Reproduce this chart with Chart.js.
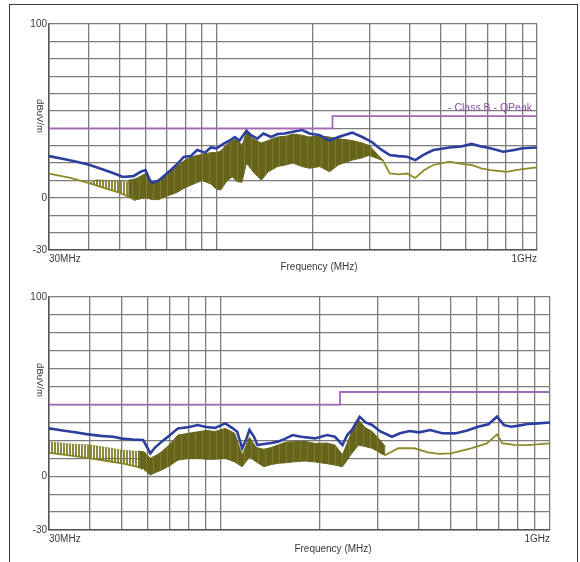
<!DOCTYPE html>
<html>
<head>
<meta charset="utf-8">
<script src="https://cdn.jsdelivr.net/npm/chart.js@4.4.1/dist/chart.umd.min.js"></script>
<style>
  body { margin: 0; background: #fff; width: 580px; height: 562px; overflow: hidden; position: relative; font-family: "Liberation Sans", Arial, sans-serif; }
  .frame { position: absolute; left: 9px; top: 4px; width: 567px; height: 620px; border: 1.5px solid #3a3a3a; }
  canvas { position: absolute; left: 0; }
  .lbl { position: absolute; transform: translate(-50%, -50%); font-size: 10px; color: #3a3a3a; white-space: nowrap; }
  .ylbl { transform: translate(-50%, -50%) rotate(90deg); font-size: 9.5px; }
</style>
</head>
<body>
<div class="frame"></div>
<canvas id="top" width="580" height="280" style="top:0;width:580px;height:280px"></canvas>
<canvas id="bottom" width="580" height="282" style="top:280px;width:580px;height:282px"></canvas>

<div class="lbl" style="left:319px;top:266px">Frequency (MHz)</div>
<div class="lbl ylbl" style="left:40px;top:116px">dBuV/m</div>
<div class="lbl" style="left:333px;top:548px">Frequency (MHz)</div>
<div class="lbl ylbl" style="left:40px;top:380px">dBuV/m</div>

<script>
// axes
const gridFreqs = [30, 40, 50, 60, 70, 80, 90, 100, 200, 300, 400, 500, 600, 700, 800, 900, 1000];
const yLabels = [100, 0, -30];

// limite classe B (QPeak)
const limitLabel = "- Class B - QPeak";
const limitFreq = [30, 230, 230, 1000];
const limitDb   = [40, 40, 47, 47];

// ---- graphe du haut ----
const topBlueFreq = [30, 33, 36, 40, 44, 48, 51, 55, 58, 60, 62, 63, 66, 70, 75, 79, 83, 87, 92, 96, 100, 105, 110, 114, 118, 124, 128, 134, 140, 148, 155, 163, 173, 185, 195, 210, 225, 240, 265, 285, 306, 325, 347, 370, 393, 417, 445, 475, 533, 580, 625, 670, 715, 785, 850, 900, 1000];
const topBlueDb   = [24, 22.5, 21, 19, 16.5, 14, 12, 12.5, 15, 16, 10, 8.5, 10, 14, 19, 23.5, 24, 27.5, 26, 29, 28.5, 31, 33, 35, 33, 38.6, 36, 34, 37, 35, 36.7, 37, 38, 39, 37, 36, 33, 35, 37.5, 35, 32, 28, 24.6, 24, 23.6, 21.7, 25, 27.5, 29, 29.5, 31, 29.5, 28.5, 26.5, 27.5, 28.5, 29];

// trait simple (null = coupure sous la bande dense)
const topOliveFreq = [30, 35, 40, 45, 50, 56, 100, 300, 330, 347, 370, 393, 417, 445, 475, 533, 580, 625, 670, 715, 800, 900, 1000];
const topOliveDb   = [14, 11.5, 8.5, 5.5, 2.8, -1.5, null, 24.6, 21.7, 14, 13.5, 14, 11.4, 16, 18.9, 20.8, 19.5, 18.9, 17, 16, 15, 16.5, 17.5];

const topSparseFreq = [40, 42, 46, 50, 54, 58];
const topSparseHigh = [8.5, 10.5, 10, 9.5, 9, 11];
const topSparseLow  = [8.5, 7.3, 5, 2.8, 0, -1.2];

const topBandFreq = [53, 56, 60, 63, 66, 70, 75, 80, 85, 90, 96, 100, 103, 108, 112, 116, 120, 124, 130, 138, 145, 155, 165, 173, 185, 195, 210, 225, 240, 265, 285, 300, 330];
const topBandHigh = [10, 11, 14, 8, 10, 14, 18, 22, 24, 25, 26, 26, 27, 31, 33, 34, 30, 38, 34, 31.5, 33, 35, 35.5, 36.7, 36, 35, 35.5, 35, 34, 33, 31.5, 30, 21.7];
const topBandLow  = [1, -1, 0, -1, -1, 1, 3, 6, 8, 10, 8, 5, 4.5, 10, 12, 9.3, 9, 20, 15, 10.2, 15, 18, 19, 20, 18, 17, 18, 15, 19, 21.7, 23, 24.6, 21.7];

// ---- graphe du bas ----
const botBlueFreq = [30, 33, 36, 39, 43, 47, 50, 54, 58, 61, 63, 66, 70, 74, 80, 85, 90, 96, 103, 108, 112, 116, 119, 122, 126, 129, 135, 142, 149, 157, 165, 175, 193, 210, 222, 234, 242, 250, 264, 275, 288, 305, 331, 350, 374, 400, 432, 470, 515, 560, 604, 650, 690, 725, 763, 820, 855, 920, 1000];
const botBlueDb   = [26.7, 25.5, 24.5, 23.5, 22.5, 22, 21, 20.5, 20.2, 12.8, 16, 19.3, 23, 26.7, 27.5, 28.6, 27.5, 27, 29.5, 27, 24.8, 15.6, 20, 25.8, 22, 17.4, 18, 18.5, 19.3, 21, 23, 22, 21.1, 23, 22, 17.4, 23, 25.8, 33.2, 30, 28.6, 25, 22, 24, 25.2, 24.5, 25.8, 24, 23.9, 25.5, 27.6, 29, 33.2, 28.5, 27.6, 28.5, 29.1, 29.5, 30];

const botOliveFreq = [30, 35, 40, 45, 50, 55, 58, 100, 305, 316, 346, 387, 425, 460, 500, 575, 643, 690, 717, 780, 855, 1000];
const botOliveDb   = [13, 11.5, 10, 8.5, 7.2, 5.5, 4.4, null, 13, 11.8, 15.6, 15.6, 13.3, 12.5, 12.8, 15.6, 18.3, 23.4, 18.3, 17.5, 17.4, 18.3];

const botSparseFreq = [30, 35, 40, 45, 50, 55, 60];
const botSparseHigh = [19.3, 18, 17.5, 16, 14.6, 14, 13];
const botSparseLow  = [13, 11.5, 10, 8.5, 7.2, 5.5, 2];

const botBandFreq = [56, 58, 61, 64, 66, 70, 74, 80, 85, 90, 96, 103, 110, 116, 122, 128, 135, 142, 149, 157, 165, 180, 193, 210, 222, 234, 250, 262, 275, 288, 305, 316];
const botBandHigh = [14, 13.7, 10, 12, 13.7, 18, 23, 24, 24.8, 25.5, 25, 26.7, 24, 11.8, 21.7, 16, 15, 16, 17.4, 19, 19.3, 19.5, 18.3, 18.5, 17.4, 12, 25, 31.4, 27, 25, 20, 16.5];
const botBandLow  = [5, 4.4, 0.7, 2.5, 3.5, 6, 9, 10, 10, 9.5, 9.5, 10, 8, 5.3, 10.7, 8, 5.3, 6.5, 7.2, 7.5, 8, 8.5, 8, 7, 6.2, 5.3, 12.8, 17.4, 16.5, 15.6, 13, 11.8];

const BLUE = "#2c3f9e";
const OLIVE = "#66641a";
const OLIVE_LINE = "#8d8b28";
const LIMIT = "#a468b8";

// hachures verticales (trace très dense du détecteur)
function stripes(color, gap, w) {
  const c = document.createElement("canvas");
  c.width = w; c.height = 4;
  const g = c.getContext("2d");
  g.fillStyle = gap;
  g.fillRect(0, 0, w, 4);
  g.fillStyle = color;
  g.fillRect(0, 0, w - 1, 4);
  return g.createPattern(c, "repeat");
}
const SPARSE = stripes("rgba(120,118,30,0.85)", "rgba(255,255,255,0)", 3);
const DENSE  = stripes(OLIVE, "#7e7c30", 7);

const pts = (xs, ys) => xs.map((x, i) => ({ x, y: ys[i] }));

// légende de la limite, écrite juste au-dessus du trait à droite
const limitLegend = {
  id: "limitLegend",
  afterDraw(chart, args, opts) {
    if (!opts.text) return;
    const { ctx, chartArea } = chart;
    ctx.save();
    ctx.font = "10.5px 'Liberation Sans', Arial, sans-serif";
    ctx.fillStyle = "#8c4aa2";
    ctx.textAlign = "right";
    ctx.textBaseline = "alphabetic";
    ctx.fillText(opts.text, chartArea.right - 5, chart.scales.y.getPixelForValue(47) - 5);
    ctx.restore();
  },
};

function buildChart(id, pad, s, legendText) {
  const line = (data, color, width, order, extra) => Object.assign({
    data, borderColor: color, borderWidth: width, pointRadius: 0, tension: 0, fill: false, order,
  }, extra || {});

  new Chart(document.getElementById(id), {
    type: "line",
    data: {
      datasets: [
        line(pts(limitFreq, limitDb), LIMIT, 1.8, 0),
        line(pts(s.blueF, s.blueY), BLUE, 2.6, 1),
        line(pts(s.sparseF, s.sparseH), "rgba(140,138,40,0.6)", 0.8, 3, { fill: "+1", backgroundColor: SPARSE }),
        line(pts(s.sparseF, s.sparseL), OLIVE_LINE, 0, 3),
        line(pts(s.bandF, s.bandH), OLIVE, 1, 2, { fill: "+1", backgroundColor: DENSE }),
        line(pts(s.bandF, s.bandL), OLIVE, 1, 2),
        line(pts(s.oliveF, s.oliveY), OLIVE_LINE, 1.8, 4),
      ],
    },
    plugins: [limitLegend],
    options: {
      responsive: false,
      animation: false,
      layout: { padding: pad },
      plugins: {
        legend: { display: false },
        tooltip: { enabled: false },
        limitLegend: { text: legendText },
      },
      scales: {
        x: {
          type: "logarithmic",
          min: 30, max: 1000,
          afterBuildTicks: sc => { sc.ticks = gridFreqs.map(v => ({ value: v })); },
          afterFit: sc => { sc.height = 20; },
          grid: { color: "#7c7c7c", lineWidth: 1.3, drawTicks: false },
          border: { color: "#555", width: 1.5 },
          ticks: {
            autoSkip: false, maxRotation: 0, align: "inner", padding: 3,
            color: "#3a3a3a", font: { family: "Liberation Sans", size: 10 },
            callback: v => v === 30 ? "30MHz" : v === 1000 ? "1GHz" : "",
          },
        },
        y: {
          min: -30, max: 100,
          afterFit: sc => { sc.width = 39; },
          grid: { color: "#7c7c7c", lineWidth: 1.3, drawTicks: false },
          border: { color: "#555", width: 1.5 },
          ticks: {
            stepSize: 10, padding: 2,
            color: "#3a3a3a", font: { family: "Liberation Sans", size: 10 },
            callback: v => yLabels.includes(v) ? String(v) : "",
          },
        },
      },
    },
  });
}

buildChart("top", { left: 10, top: 24, right: 43, bottom: 10 }, {
  blueF: topBlueFreq, blueY: topBlueDb,
  oliveF: topOliveFreq, oliveY: topOliveDb,
  sparseF: topSparseFreq, sparseH: topSparseHigh, sparseL: topSparseLow,
  bandF: topBandFreq, bandH: topBandHigh, bandL: topBandLow,
}, limitLabel);

buildChart("bottom", { left: 10, top: 17, right: 30, bottom: 12 }, {
  blueF: botBlueFreq, blueY: botBlueDb,
  oliveF: botOliveFreq, oliveY: botOliveDb,
  sparseF: botSparseFreq, sparseH: botSparseHigh, sparseL: botSparseLow,
  bandF: botBandFreq, bandH: botBandHigh, bandL: botBandLow,
}, "");
</script>
</body>
</html>
